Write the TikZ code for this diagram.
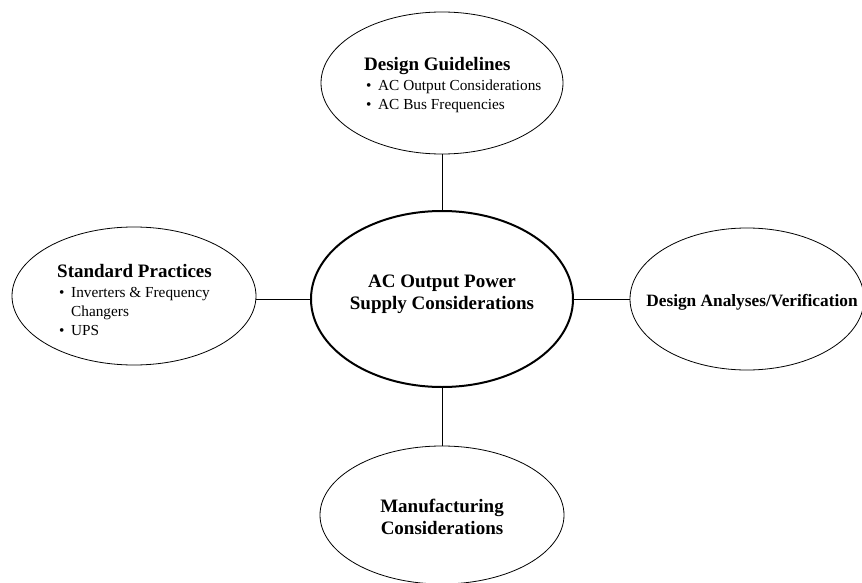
\documentclass[tikz,border=0pt]{standalone}
\usepackage{fontspec}
\usepackage{tikz}
\usetikzlibrary{shapes.geometric}
\setmainfont{Liberation Serif}

\newcommand{\itembul}{\makebox[14pt][l]{\hspace*{2pt}\textbullet}}
\newcommand{\headfont}{\fontsize{19}{22}\bfseries}
\newcommand{\listfont}{\fontsize{15.3}{19}\selectfont}

\tikzset{
    bubble/.style={draw, ellipse, line width=0.8pt, inner sep=0pt},
    hub/.style={bubble, line width=2pt},
    listtext/.style={anchor=north west, inner sep=0pt, align=left, font=\listfont},
    headtext/.style={inner sep=0pt, align=center, font=\headfont}
}

\begin{document}
\begin{tikzpicture}[x=1pt, y=-1pt]
                \useasboundingbox (0,0) rectangle (862,583);
                % ellipses
                \node[hub, minimum width=262pt, minimum height=176pt] (core) at (442,299) {};
                \node[bubble, minimum width=242pt, minimum height=142pt] (guide) at (442,83) {};
                \node[bubble, minimum width=244pt, minimum height=138pt] (std) at (134,296) {};
                \node[bubble, minimum width=234pt, minimum height=142pt] (verif) at (747,299) {};
                \node[bubble, minimum width=244pt, minimum height=138pt] (manuf) at (442,515) {};
                % texts
                \node[headtext, anchor=north] (core text) at (442,275)
                    {AC Output Power\\Supply Considerations};
                \node[listtext] (guide text) at (364,57)
                    {{\headfont Design Guidelines}\\[1.5pt]
                     \itembul AC Output Considerations\\
                     \itembul AC Bus Frequencies};
                \node[listtext] (std text) at (57,264)
                    {{\headfont Standard Practices}\\[1pt]
                     \itembul Inverters \& Frequency\\
                     \hspace*{14pt}Changers\\
                     \itembul UPS};
                \node[inner sep=0pt, anchor=base, font=\fontsize{17.3}{20}\bfseries] (verif text) at (752,306)
                    {Design Analyses/Verification};
                \node[headtext, anchor=north] (manuf text) at (442,499)
                    {Manufacturing\\Considerations};
                % links
                \draw[line width=0.8pt] (guide.south) -- (core.north);
                \draw[line width=0.8pt] (std.east |- core.west) -- (core.west);
                \draw[line width=0.8pt] (core.east) -- (verif.west);
                \draw[line width=0.8pt] (core.south) -- (manuf.north);
            \end{tikzpicture}
\end{document}
